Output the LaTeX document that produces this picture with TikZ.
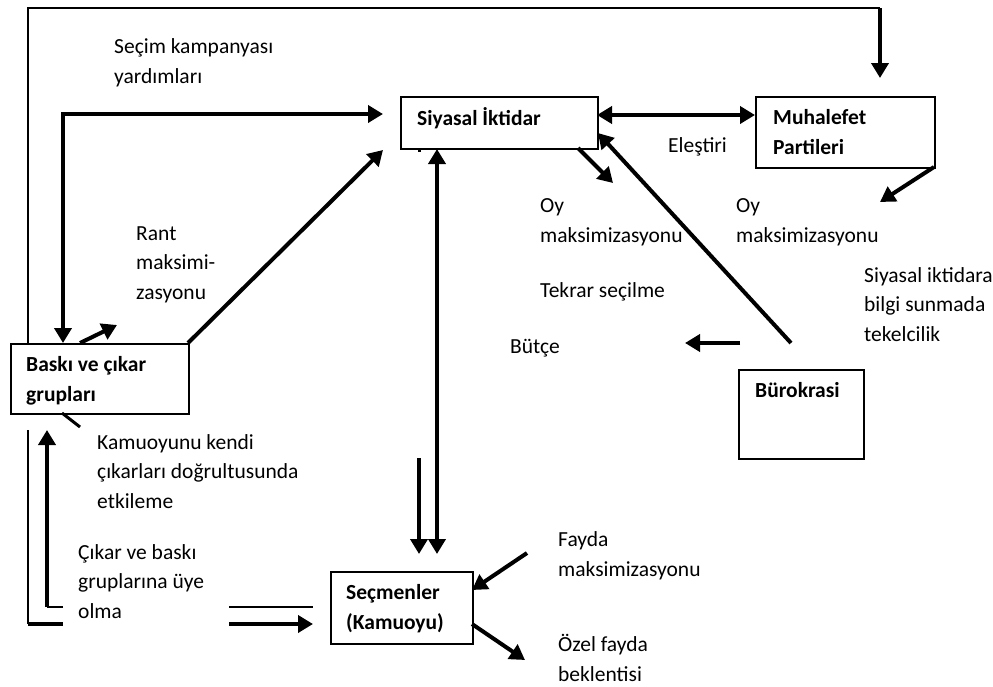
\documentclass[tikz,border=0pt]{standalone}
\usepackage{fontspec}
\setmainfont{Carlito}
\usetikzlibrary{arrows.meta}
\begin{document}
\begin{tikzpicture}[x=1pt,y=-1pt,
  lbl/.style={font=\fontsize{21.5}{29.5}\selectfont, inner sep=0pt, anchor=base west, align=left},
  blbl/.style={lbl, font=\fontsize{21.5}{29.5}\selectfont\bfseries},
  boxn/.style={draw, line width=2.2pt, inner sep=0pt, anchor=north west},
  frame/.style={line width=2.4pt},
  thk/.style={line width=4pt},
  tip/.tip={Triangle[length=15pt,width=17pt]},
  arr/.style={thk, -tip},
  darr/.style={thk, tip-tip}]
\useasboundingbox (0,0) rectangle (993,686);
% boxes
\node[boxn, minimum width=197pt, minimum height=52pt] (siy) at (400,96) {};
\node[boxn, minimum width=179pt, minimum height=71pt] (muh) at (755,96) {};
\node[boxn, minimum width=178pt, minimum height=70pt] (bas) at (10,343) {};
\node[boxn, minimum width=125pt, minimum height=89pt] (bur) at (738,369) {};
\node[boxn, minimum width=142pt, minimum height=72pt] (sec) at (330,571) {};
% box texts (anchor = baseline of last line)
\node[blbl] (siyt) at (417,125) {Siyasal İktidar};
\node[blbl] (muht) at (773,154) {Muhalefet\\Partileri};
\node[blbl] (bast) at (26,401) {Baskı ve çıkar\\grupları};
\node[blbl] (burt) at (755,397) {Bürokrasi};
\node[blbl] (sect) at (346,629) {Seçmenler\\(Kamuoyu)};
% labels
\node[lbl] (l1) at (114,83) {Seçim kampanyası\\yardımları};
\node[lbl] (l2) at (668,152) {Eleştiri};
\node[lbl] (l3) at (540,242) {Oy\\maksimizasyonu};
\node[lbl] (l4) at (736,242) {Oy\\maksimizasyonu};
\node[lbl] (l5) at (540,297) {Tekrar seçilme};
\node[lbl] (l6) at (510,353) {Bütçe};
\node[lbl] (l7) at (864,341) {Siyasal iktidara\\bilgi sunmada\\tekelcilik};
\node[lbl] (l8) at (136,299) {Rant\\maksimi-\\zasyonu};
\node[lbl] (l9) at (97,508) {Kamuoyunu kendi\\çıkarları doğrultusunda\\etkileme};
\node[lbl] (l10) at (78,618) {Çıkar ve baskı\\gruplarına üye\\olma};
\node[lbl] (l11) at (558,576) {Fayda\\maksimizasyonu};
\node[lbl] (l12) at (558,681) {Özel fayda\\beklentisi};
% coordinates
\coordinate (c1) at (28,343);
\coordinate (tl) at (28,8);
\coordinate (tr) at (880,8);
\coordinate (mtop) at (880,78);
\coordinate (sm1) at (597,115);
\coordinate (sm2) at (755,115);
\coordinate (so1) at (578,148);
\coordinate (so2) at (613,183);
\coordinate (mo1) at (934,167);
\coordinate (mo2) at (880,202);
\coordinate (bs1) at (791,343);
\coordinate (bs2) at (598,133);
\coordinate (bu1) at (740,343);
\coordinate (bu2) at (685,343);
\coordinate (v1) at (437,149);
\coordinate (v2) at (437,554);
\coordinate (w1) at (419,458);
\coordinate (w2) at (419,554);
\coordinate (h1) at (383,114);
\coordinate (hc) at (63,114);
\coordinate (h2) at (63,343);
\coordinate (s1) at (80,343);
\coordinate (s2) at (117,325);
\coordinate (d1) at (188,343);
\coordinate (d2) at (383,150);
\coordinate (k1) at (62,413);
\coordinate (k2) at (80,427);
\coordinate (o1) at (28,430);
\coordinate (o2) at (28,624);
\coordinate (o3) at (63,624);
\coordinate (i1) at (63,607);
\coordinate (i2) at (47,607);
\coordinate (i3) at (47,430);
\coordinate (r1) at (229,607);
\coordinate (r2) at (313,607);
\coordinate (r3) at (229,624);
\coordinate (r4) at (313,624);
\coordinate (f1) at (527,553);
\coordinate (f2) at (472,590);
\coordinate (z1) at (472,624);
\coordinate (z2) at (525,660);
% connectors
\draw[frame] (c1) -- (tl) -- (tr);
\draw[arr] (tr) -- (mtop);
\draw[darr] (sm1) -- (sm2);
\draw[arr] (so1) -- (so2);
\draw[arr] (mo1) -- (mo2);
\draw[arr] (bs1) -- (bs2);
\draw[arr] (bu1) -- (bu2);
\draw[darr] (v1) -- (v2);
\draw[arr] (w1) -- (w2);
\draw[darr] (h1) -- (hc) -- (h2);
\draw[arr] (s1) -- (s2);
\draw[arr] (d1) -- (d2);
\draw[line width=3pt] (k1) -- (k2);
\draw[frame] (o1) -- (o2);
\draw[thk] (o2) -- (o3);
\draw[frame] (i1) -- (i2);
\draw[arr] (i2) -- (i3);
\draw[frame] (r1) -- (r2);
\draw[arr] (r3) -- (r4);
\draw[arr] (f1) -- (f2);
\draw[arr] (z1) -- (z2);
\fill (417.5,148) rectangle (421,152);
\end{tikzpicture}
\end{document}
